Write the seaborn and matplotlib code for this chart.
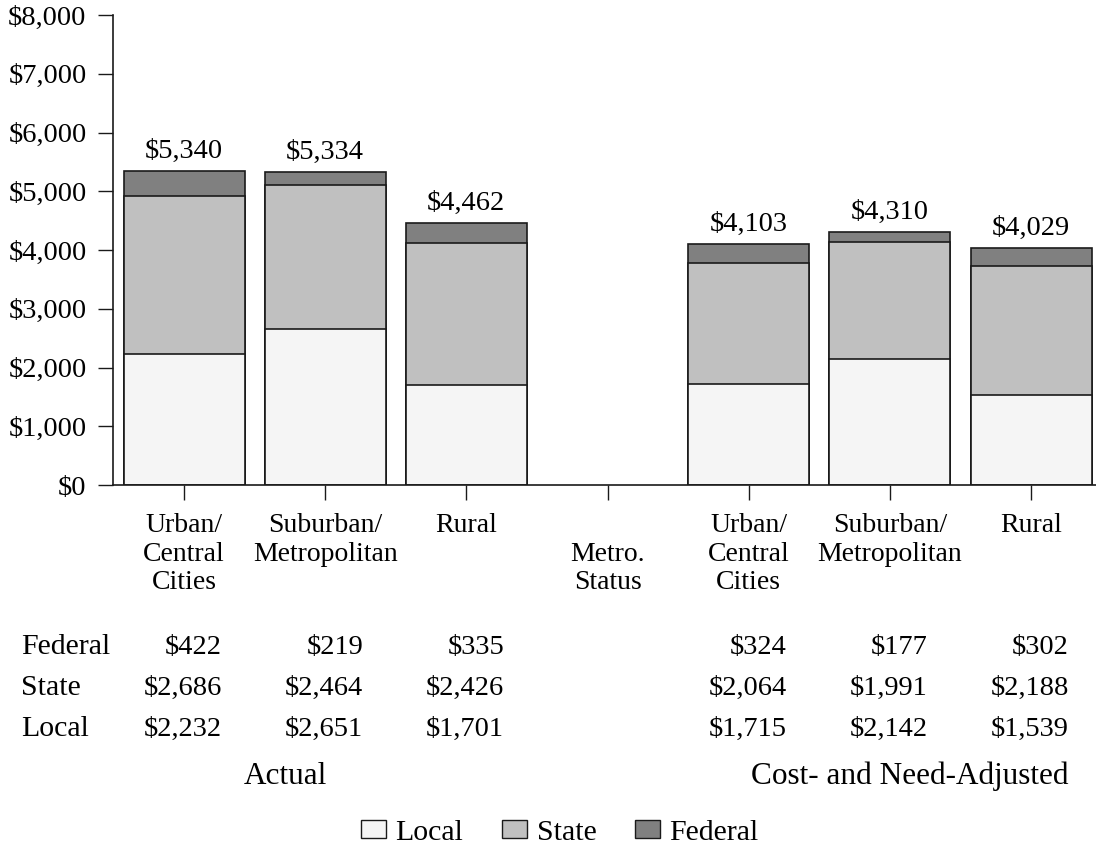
import numpy as np
import pandas as pd
import matplotlib
matplotlib.use('Agg')
import matplotlib.pyplot as plt
import matplotlib.patches as mpatches
import matplotlib.ticker as mticker
import matplotlib.transforms as mtransforms
import seaborn as sns

# Categories (middle slot is the "Metro. Status" divider with no bar)
keys = ['A_urban', 'A_suburban', 'A_rural', 'metro', 'C_urban', 'C_suburban', 'C_rural']
tick_labels = ['Urban/\nCentral\nCities', 'Suburban/\nMetropolitan', 'Rural',
               '\nMetro.\nStatus',
               'Urban/\nCentral\nCities', 'Suburban/\nMetropolitan', 'Rural']

# Per-pupil revenue by source (actual, then cost- and need-adjusted)
local = [2232, 2651, 1701, np.nan, 1715, 2142, 1539]
state = [2686, 2464, 2426, np.nan, 2064, 1991, 2188]
federal = [422, 219, 335, np.nan, 324, 177, 302]

group_labels = ['Actual', 'Cost- and Need-Adjusted']

df = pd.DataFrame({'key': keys, 'Local': local, 'State': state, 'Federal': federal})
df['local_state'] = df['Local'] + df['State']
df['total'] = df['local_state'] + df['Federal']

colors = {'Local': '#f5f5f5', 'State': '#c0c0c0', 'Federal': '#808080'}
edge = '#1a1a1a'

sns.set_style('ticks')
plt.rcParams['font.family'] = ['Liberation Serif', 'DejaVu Serif']
plt.rcParams['font.size'] = 20
plt.rcParams['text.color'] = 'black'

fig = plt.figure(figsize=(10.96, 8.48), dpi=100)
ax = fig.add_axes([0.1031, 0.428, 0.8969, 0.5543])

bar_w = 0.857
# layered stacking: total (federal on top), then local+state, then local
for col, c in [('total', colors['Federal']), ('local_state', colors['State']),
               ('Local', colors['Local'])]:
    sns.barplot(data=df, x='key', y=col, order=keys, color=c, saturation=1,
                edgecolor=edge, linewidth=1.2, width=bar_w, errorbar=None, ax=ax)

# total labels above bars
for i, tot in enumerate(df['total']):
    if np.isnan(tot):
        continue
    ax.annotate(f'${tot:,.0f}', (i, tot), xytext=(0, 5), textcoords='offset points',
                ha='center', va='bottom', fontsize=20.5)

ax.set_ylim(0, 8000)
ax.set_xlim(-0.503, 6.46)
ax.yaxis.set_major_locator(mticker.MultipleLocator(1000))
ax.yaxis.set_major_formatter(mticker.StrMethodFormatter('${x:,.0f}'))
ax.set_xticks(range(len(keys)))
ax.set_xticklabels(tick_labels, va='top', linespacing=1.2)
ax.tick_params(axis='both', direction='out', length=11, width=1, colors=edge,
               labelcolor='black')
ax.tick_params(axis='x', pad=9, labelsize=20)
ax.tick_params(axis='y', pad=8, labelsize=20.5)
ax.set_xlabel('')
ax.set_ylabel('')
sns.despine(ax=ax)
for s in ['left', 'bottom']:
    ax.spines[s].set_color(edge)
    ax.spines[s].set_linewidth(1.2)

# data table under the chart
trans = mtransforms.blended_transform_factory(ax.transData, fig.transFigure)
rows = [('Federal', federal), ('State', state), ('Local', local)]
row_y = [1 - 647 / 848, 1 - 688 / 848, 1 - 729 / 848]
for (name, vals), y in zip(rows, row_y):
    fig.text(21 / 1096, y, name, ha='left', va='center', fontsize=21.5)
    for i, v in enumerate(vals):
        if np.isnan(v):
            continue
        ax.text(i + 0.268, y, f'${v:,.0f}', transform=trans, ha='right',
                va='center', fontsize=20.5)

fig.text(285 / 1096, 1 - 776 / 848, group_labels[0], ha='center', va='center', fontsize=22.5)
fig.text(910 / 1096, 1 - 776 / 848, group_labels[1], ha='center', va='center', fontsize=22.5)

handles = [mpatches.Patch(facecolor=colors[k], edgecolor=edge, linewidth=1, label=k)
           for k in ['Local', 'State', 'Federal']]
fig.legend(handles=handles, loc='center', bbox_to_anchor=(560 / 1096, 1 - 833 / 848),
           ncol=3, frameon=False, fontsize=21.5, handlelength=0.82, handleheight=0.55,
           handletextpad=0.33, columnspacing=1.3, borderaxespad=0)

fig.savefig('out.png', dpi=100)
